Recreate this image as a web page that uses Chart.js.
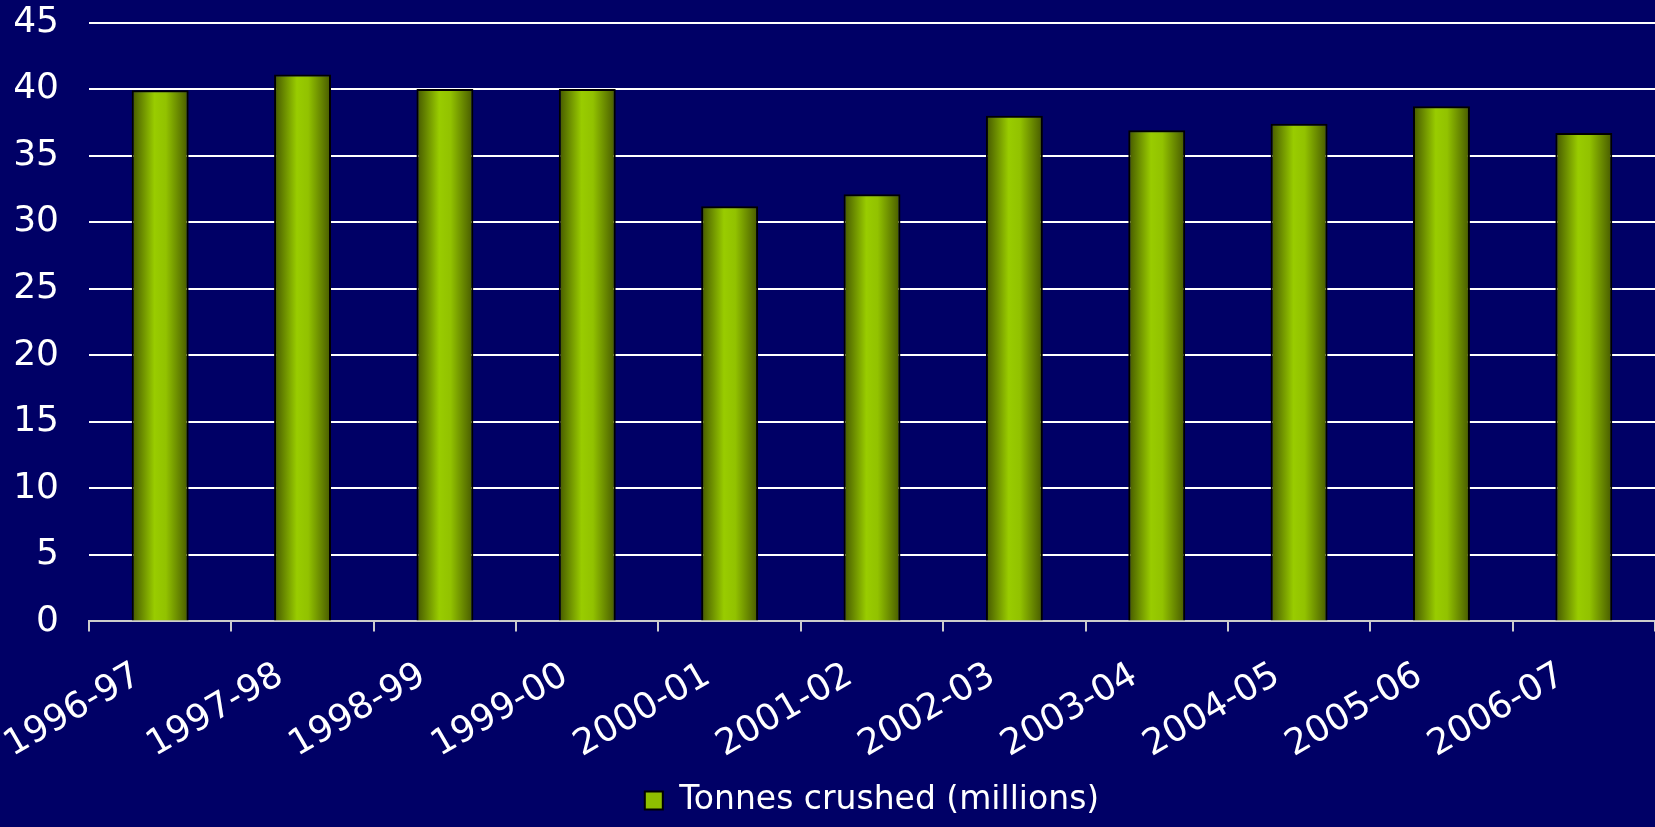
<!DOCTYPE html>
<html>
<head>
<meta charset="utf-8">
<script src="https://cdn.jsdelivr.net/npm/chart.js@4"></script>
<style>
  html, body { margin: 0; padding: 0; background: #000066; }
  #wrap { width: 1655px; height: 827px; }
</style>
</head>
<body>
<div id="wrap"><canvas id="myChart"></canvas></div>
<script>
const seasons = ['1996-97', '1997-98', '1998-99', '1999-00', '2000-01', '2001-02', '2002-03', '2003-04', '2004-05', '2005-06', '2006-07'];
const tonnes = [39.9, 41.1, 40.0, 40.0, 31.2, 32.1, 38.0, 36.9, 37.4, 38.7, 36.7];
const seriesName = 'Tonnes crushed (millions)';

const BAR_PCT = 0.4;

function barFill(context) {
	const chart = context.chart;
	const xs = chart.scales.x;
	if (context.type !== 'data' || !xs || !chart.chartArea) return '#8fbf00';
	const c = xs.getPixelForValue(context.dataIndex);
	const w = (xs.width / seasons.length) * BAR_PCT;
	const g = chart.ctx.createLinearGradient(c - w / 2, 0, c + w / 2, 0);
	g.addColorStop(0, '#445600');
	g.addColorStop(0.4, '#99cc00');
	g.addColorStop(0.6, '#92c200');
	g.addColorStop(1, '#465800');
	return g;
}

const bgPlugin = {
	id: 'bg',
	beforeDraw(chart) {
		const ctx = chart.ctx;
		ctx.save();
		ctx.fillStyle = '#000066';
		ctx.fillRect(0, 0, chart.width, chart.height);
		ctx.restore();
	}
};

new Chart(document.getElementById('myChart'), {
	type: 'bar',
	data: {
		labels: seasons,
		datasets: [{
			label: seriesName,
			data: tonnes,
			backgroundColor: barFill,
			borderColor: '#000000',
			borderWidth: 2,
			categoryPercentage: 1.0,
			barPercentage: BAR_PCT
		}]
	},
	plugins: [bgPlugin],
	options: {
		responsive: true,
		maintainAspectRatio: false,
		animation: false,
		layout: {
			padding: { left: 11, right: 0, top: 1, bottom: 0 }
		},
		plugins: {
			legend: {
				position: 'bottom',
				fullSize: false,
				labels: {
					color: '#ffffff',
					font: { family: 'DejaVu Sans', size: 33 },
					boxWidth: 18,
					boxHeight: 18,
					padding: 0,
					generateLabels(chart) {
						return Chart.defaults.plugins.legend.labels.generateLabels(chart)
							.map(l => Object.assign(l, { fillStyle: '#8fbf00', strokeStyle: '#000000', lineWidth: 2 }));
					}
				}
			},
			tooltip: { enabled: false }
		},
		scales: {
			x: {
				afterFit(scale) {
					scale.paddingLeft = 0;
					scale.paddingRight = 0;
					scale.height -= 6;
				},
				grid: {
					offset: true,
					drawOnChartArea: false,
					color: '#cccccc',
					lineWidth: 2,
					tickLength: 10
				},
				border: { color: '#cccccc', width: 2 },
				ticks: {
					color: '#ffffff',
					font: { family: 'DejaVu Sans', size: 36 },
					maxRotation: 30,
					minRotation: 30,
					padding: 23,
					labelOffset: -22
				}
			},
			y: {
				min: 0,
				max: 45,
				afterFit(scale) {
					scale.width = 78;
					scale.paddingTop = 22.5;
					scale.paddingBottom = 0;
				},
				grid: {
					color: '#ffffff',
					lineWidth: 2,
					drawTicks: false
				},
				border: { display: false },
				ticks: {
					stepSize: 5,
					color: '#ffffff',
					font: { family: 'DejaVu Sans', size: 36 },
					padding: 30
				}
			}
		}
	}
});
</script>
</body>
</html>
